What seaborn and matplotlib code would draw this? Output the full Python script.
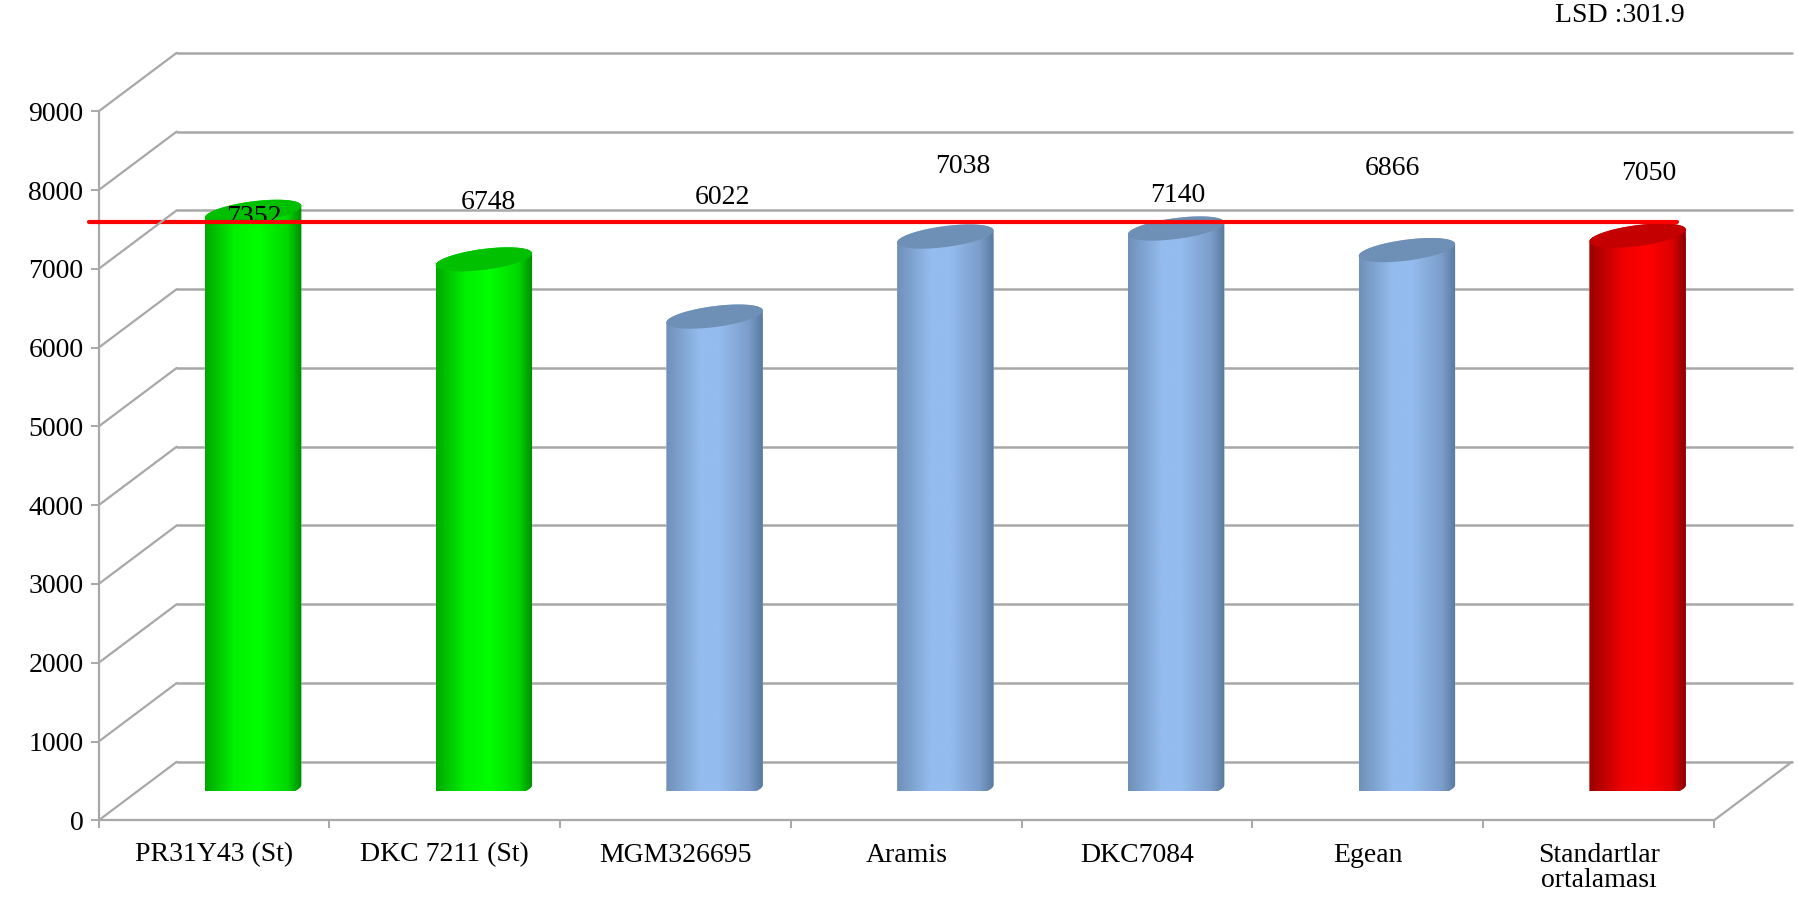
import numpy as np
import pandas as pd
import matplotlib
matplotlib.use("Agg")
import matplotlib.pyplot as plt
import seaborn as sns
from matplotlib.patches import ConnectionPatch, PathPatch, Polygon
from matplotlib.path import Path

categories = ["PR31Y43 (St)", "DKC 7211 (St)", "MGM326695", "Aramis", "DKC7084", "Egean",
              "Standartlar\nortalaması"]
yields = [7352, 6748, 6022, 7038, 7140, 6866, 7050]
y_ticks = [0, 1000, 2000, 3000, 4000, 5000, 6000, 7000, 8000, 9000]
lsd_text = "LSD :301.9"
lsd_line_y = 7600

# label offsets from the top of each cylinder, in pixels
label_dx = [1, 5, 8, 17, 2, -14, 11]
label_dy = [-6, 57, 119, 70, 33, 82, 62]

green = [(0.0, "#00a800"), (0.3, "#00f000"), (0.55, "#00ff00"), (0.85, "#00d800"), (1.0, "#008a00")]
blue = [(0.0, "#6f90b8"), (0.35, "#94bcee"), (0.55, "#94bcee"), (0.85, "#7c9ecb"), (1.0, "#587a9f")]
red = [(0.0, "#9a0000"), (0.35, "#f00000"), (0.6, "#ff0000"), (0.85, "#e00000"), (1.0, "#8a0000")]
gradients = [green, green, blue, blue, blue, blue, red]
tops = ["#00c000", "#00c000", "#6e8fb6", "#6e8fb6", "#6e8fb6", "#6e8fb6", "#c40000"]
bases = ["#00ff00", "#00ff00", "#94bcee", "#94bcee", "#94bcee", "#94bcee", "#ff0000"]

W, H = 1799, 909
GREY = "#a8a8a8"

sns.set_theme(style="white")
plt.rcParams["font.family"] = ["Liberation Serif", "DejaVu Serif"]
plt.rcParams["axes.facecolor"] = "none"

fig = plt.figure(figsize=(W / 100, H / 100), dpi=100, facecolor="white")


def plane_axes(dx, dy):
    # front plane of the fake 3D box, moved back by dx, dy pixels
    left, right, bottom, top = 98.7, 1714.0, 820.3, 111.3
    ax = fig.add_axes([(left + dx) / W, 1 - (bottom + dy) / H, (right - left) / W, (bottom - top) / H])
    ax.set_xlim(-0.5, 6.5)
    ax.set_ylim(0, 9000)
    return ax


ax_back = plane_axes(78, -58.5)
ax_front = plane_axes(0, 0)
ax_bars = plane_axes(39, -29.3)

# back wall
ax_back.set_yticks(y_ticks)
ax_back.set_xticks([])
ax_back.grid(axis="y", color=GREY, lw=1.8)
ax_back.tick_params(left=False, labelleft=False)
sns.despine(ax=ax_back, left=True, bottom=True)
for line in ax_back.get_ygridlines():
    line.set_clip_on(False)

# front axes
ax_front.set_xticks(np.arange(8) - 0.5)
ax_front.set_xticklabels([])
ax_front.set_xticks(np.arange(7), labels=categories, minor=True)
ax_front.set_yticks(y_ticks)
ax_front.set_yticklabels([str(v) for v in y_ticks])
ax_front.tick_params(axis="x", which="major", length=6, width=1.4, color=GREY, bottom=True)
ax_front.tick_params(axis="x", which="minor", length=0, labelsize=20, pad=16, labelcolor="black")
ax_front.tick_params(axis="y", length=6, width=1.4, color=GREY, left=True, labelsize=20, pad=5, labelcolor="black")
for lab in ax_front.get_xminorticklabels():
    lab.set_linespacing(1.0)
    lab.set_verticalalignment("top")
sns.despine(ax=ax_front)
for side in ["left", "bottom"]:
    ax_front.spines[side].set_color(GREY)
    ax_front.spines[side].set_linewidth(1.6)

# diagonals from the front axis to the back wall
for v in y_ticks:
    fig.add_artist(ConnectionPatch((0, v), (0, v), coordsA=ax_front.get_yaxis_transform(),
                                   coordsB=ax_back.get_yaxis_transform(), color=GREY, lw=1.6))
fig.add_artist(ConnectionPatch((1, 0), (1, 0), coordsA=ax_front.get_yaxis_transform(),
                               coordsB=ax_back.get_yaxis_transform(), color=GREY, lw=1.6))

# cylinders
df = pd.DataFrame({"hybrid": categories, "yield": yields})
sns.barplot(data=df, x="hybrid", y="yield", hue="hybrid", palette=bases, dodge=False,
            width=0.418, legend=False, ax=ax_bars)
ax_bars.set_xlim(-0.5, 6.5)
ax_bars.set_ylim(0, 9000)
ax_bars.axis("off")

cap_b = 10.5 / 0.0788  # cap half height, data units
cap_k = 6.0 / 0.0788   # tilt of the cap, data units


def ellipse(cx, cy, a, t):
    return np.column_stack([cx + a * np.cos(t), cy + cap_b * np.sin(t) + cap_k * np.cos(t)])


for i, bar in enumerate(ax_bars.patches):
    x0, w, v = bar.get_x(), bar.get_width(), bar.get_height()
    cx, a = x0 + w / 2, w / 2
    lower = ellipse(cx, 0, a, np.linspace(np.pi, 2 * np.pi, 60))
    upper = ellipse(cx, v, a, np.linspace(0, np.pi, 60))
    outline = Polygon(np.vstack([lower, upper]), closed=True, transform=ax_bars.transData,
                      fc="none", ec="none")
    ax_bars.add_patch(outline)
    bar.set_clip_path(outline)

    stops = gradients[i]
    cmap = matplotlib.colors.LinearSegmentedColormap.from_list("cyl", stops)
    img = ax_bars.imshow(np.linspace(0, 1, 256)[None, :], cmap=cmap, aspect="auto", vmin=0, vmax=1,
                         extent=[x0, x0 + w, -400, v + 400], zorder=3)
    img.set_clip_path(outline)

    cap = ellipse(cx, v, a, np.linspace(0, 2 * np.pi, 120))
    ax_bars.add_patch(Polygon(cap, closed=True, fc=tops[i], ec="none", zorder=4))

    ax_bars.annotate(str(yields[i]), xy=(cx, v), xytext=(label_dx[i], label_dy[i]),
                     textcoords="offset pixels", ha="center", va="center",
                     fontsize=20, color="black", zorder=5)

ax_bars.set_xlim(-0.5, 6.5)
ax_bars.set_ylim(0, 9000)

# LSD line, drawn on the front plane
ax_line = plane_axes(0, 0)
ax_line.axis("off")
sns.lineplot(x=[-0.54, 6.34], y=[lsd_line_y, lsd_line_y], color="#ff0000", lw=3, ax=ax_line, clip_on=False)
ax_line.set_xlim(-0.5, 6.5)
ax_line.set_ylim(0, 9000)

fig.text(1620 / W, 1 - 15 / H, lsd_text, ha="center", va="center", fontsize=20, color="black")

fig.savefig("out.png", dpi=100)
